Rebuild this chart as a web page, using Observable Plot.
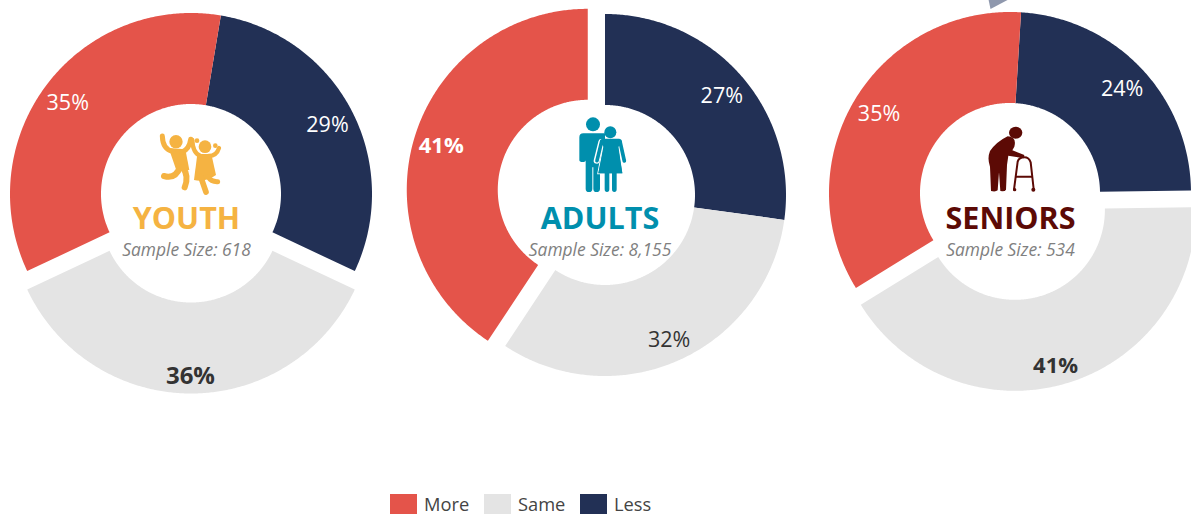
<!DOCTYPE html>
<html>
<head>
<meta charset="utf-8">
<script src="https://cdn.jsdelivr.net/npm/d3@7"></script>
<script src="https://cdn.jsdelivr.net/npm/@observablehq/plot@0.6"></script>
<style>
  html, body { margin: 0; padding: 0; background: #fff; overflow: hidden; }
  svg { display: block; }
  #legend { display: flex; align-items: center; margin: 4px 0 0 390px; height: 20px;
            font: 18.3px "Open Sans", sans-serif; color: #444; }
  #legend .sw { width: 27px; height: 20px; margin-right: 7px; flex: none; }
  #legend .it { display: flex; align-items: center; }
  #legend span { position: relative; top: -1px; }
</style>
</head>
<body>
<div id="chart"></div>
<div id="legend"></div>
<script>
// ---- values (printed rounded)
const groups = ["YOUTH", "ADULTS", "SENIORS"];
const sampleSizes = ["618", "8,155", "534"];
const answers = ["Less", "Same", "More"];          // clockwise order in each ring
const less = [29.36, 27.2, 23.8];
const same = [36, 32.1, 41.44];
const more = [34.64, 40.7, 34.76];
const legendOrder = ["More", "Same", "Less"];
const legendWidths = [94, 96, 90];

// ---- layout and styles
const W = 1191, H = 490;
const colors = { More: "#E4544A", Same: "#E4E4E4", Less: "#223055" };
const centers = [[190.5, 193.5], [604.5, 194.5], [1009.5, 192.5]];
const rotation = [9.5, 0, 3.5];
const explodedAnswer = ["Same", "More", "Same"];
const explodeBy = [18.5, 18, 17.5];
const R = 181, r = 90;
const nameColor = ["#F5B342", "#008FAD", "#5C0A05"];
const nameX = [186, 599.5, 1010];
const sampleX = [186, 599.5, 1010];
const boldLabel = { YOUTH: "Same", ADULTS: "More", SENIORS: "Same" };
const nameY = 218.5, sampleY = 250;
const pointerColor = "#8F98AD";
const labelRadius = { Less: [153, 153, 153], Same: [164, 159, 161], More: [153, 153, 153] };
const labelTurn = { Less: [0.8, 0.8, 0.8], Same: [0.2, 0.5, 1.6], More: [-0.8, 0, 0.2] };

const rows = [];
groups.forEach((group, g) => {
  const vals = { Less: less[g], Same: same[g], More: more[g] };
  let a = rotation[g];
  for (const answer of answers) {
    const a0 = a, a1 = a + vals[answer] * 3.6;
    a = a1;
    const mid = (a0 + a1) / 2 * Math.PI / 180;
    const off = answer === explodedAnswer[g] ? explodeBy[g] : 0;
    rows.push({
      group, g, answer, value: vals[answer], a0, a1, mid,
      cx: centers[g][0] + off * Math.sin(mid),
      cy: centers[g][1] - off * Math.cos(mid),
      labelR: labelRadius[answer][g],
      labelTurn: labelTurn[answer][g] * Math.PI / 180,
      bold: boldLabel[group] === answer
    });
  }
});

// polygon outline of each ring slice
const outline = rows.flatMap((s) => {
  const pts = [];
  const n = Math.ceil((s.a1 - s.a0) * 2);
  for (let i = 0; i <= n; i++) {
    const t = (s.a0 + (s.a1 - s.a0) * i / n) * Math.PI / 180;
    pts.push({ key: s.group + s.answer, answer: s.answer, x: s.cx + R * Math.sin(t), y: s.cy - R * Math.cos(t) });
  }
  for (let i = n; i >= 0; i--) {
    const t = (s.a0 + (s.a1 - s.a0) * i / n) * Math.PI / 180;
    pts.push({ key: s.group + s.answer, answer: s.answer, x: s.cx + r * Math.sin(t), y: s.cy - r * Math.cos(t) });
  }
  return pts;
});

const labels = rows.map((s) => ({
  text: Math.round(s.value) + "%",
  x: s.cx + s.labelR * Math.sin(s.mid + s.labelTurn),
  y: s.cy - s.labelR * Math.cos(s.mid + s.labelTurn),
  bold: s.bold,
  size: s.bold ? (s.group === "YOUTH" ? 24 : 22) : 21.5,
  color: s.answer === "Same" ? "#333333" : "#ffffff"
}));

const titles = groups.map((name, g) => ({ name, x: nameX[g], y: nameY, color: nameColor[g] }));
const samples = groups.map((name, g) => ({ text: "Sample Size: " + sampleSizes[g], x: sampleX[g], y: sampleY }));

const pointer = [{ x: 988, y: -1 }, { x: 1008, y: -1 }, { x: 990, y: 8.5 }];

// pictographs: drawn in a local 3x grid, placed through the scales
const icons = [
  { origin: [100, 120], fill: nameColor[0], markup: `
    <circle cx="228" cy="65" r="20"/><circle cx="315" cy="80" r="19"/>
    <circle cx="291" cy="62" r="7"/><circle cx="346" cy="77" r="7"/>
    <path d="M206,84 L256,88 L268,150 L230,154 Z"/>
    <path d="M292,102 L334,102 L348,165 Q316,188 282,180 Z"/>
    <g fill="none" stroke="${nameColor[0]}" stroke-linecap="round" stroke-linejoin="round">
      <path stroke-width="15" d="M187,48 Q188,88 218,94"/>
      <path stroke-width="15" d="M272,58 Q268,88 245,97"/>
      <path stroke-width="18" d="M240,142 Q226,178 192,168"/>
      <path stroke-width="18" d="M248,142 Q268,168 254,202"/>
      <path stroke-width="13" d="M277,60 Q278,100 302,108"/>
      <path stroke-width="13" d="M357,84 Q350,108 326,108"/>
      <path stroke-width="17" d="M302,170 L318,216"/>
      <path stroke-width="15" d="M324,170 Q334,186 353,185"/>
    </g>` },
  { origin: [510, 110], fill: nameColor[1], markup: `
    <circle cx="249" cy="43" r="21"/>
    <path d="M220,70 H285 V160 H270 V236 Q270,246 259,246 Q250,246 250,236 V172 H247 V236 Q247,246 237,246 Q227,246 227,236 V118 L227,150 Q227,156 218,156 Q208,156 208,150 V82 Q208,70 220,70 Z"/>
    <g fill="none" stroke="#fff" stroke-width="18" stroke-linecap="round"><path d="M274,96 L260,152"/></g>
    <path d="M283,95 H323 L337,190 H265 Z" stroke="#fff" stroke-width="6" paint-order="stroke"/>
    <circle cx="301" cy="67" r="18"/>
    <path d="M284,188 H298 V238 Q298,246 291,246 Q284,246 284,238 Z M306,188 H320 V238 Q320,246 313,246 Q306,246 306,238 Z"/>
    <path d="M276,86 H328 Q334,87 336,95 L322,115 H284 L270,95 Q272,87 276,86 Z"/>
    <g fill="none" stroke="${nameColor[1]}" stroke-width="11" stroke-linecap="round"><path d="M275,94 L261,152"/><path d="M330,94 L343,153"/></g>
    <path d="M283,105 H323 L337,190 H265 Z"/>` },
  { origin: [925, 115], fill: nameColor[2], markup: `
    <ellipse cx="272" cy="53" rx="20" ry="18"/>
    <path d="M248,64 Q276,66 268,95 L262,106 L298,120 L296,130 L250,122 L246,150 L243,224 Q240,230 226,228 L222,172 L218,226 Q212,231 198,228 L195,155 Q186,130 195,108 Q215,80 248,64 Z"/>
    <g fill="none" stroke="${nameColor[2]}" stroke-width="6" stroke-linecap="round">
      <path d="M267,224 L278,140 Q282,127 298,127 Q312,127 317,142 L326,222"/>
      <path d="M273,185 H321"/>
    </g>
    <circle cx="325" cy="224" r="6"/><circle cx="269" cy="224" r="5"/>` }
];

const iconMark = (index, { x, y }) => {
  const g = d3.create("svg:g");
  for (const icon of icons) {
    g.append("g")
      .attr("transform", `translate(${x(icon.origin[0])},${y(icon.origin[1])}) scale(${1 / 3})`)
      .attr("fill", icon.fill)
      .html(icon.markup);
  }
  return g.node();
};

const font = '"Open Sans", sans-serif';
const chart = Plot.plot({
  width: W, height: H,
  margin: 0,
  style: { fontFamily: font, background: "transparent" },
  x: { domain: [0, W], range: [0, W], axis: null },
  y: { domain: [0, H], range: [0, H], axis: null },
  color: { domain: Object.keys(colors), range: Object.values(colors) },
  marks: [
    Plot.line(pointer, { x: "x", y: "y", fill: pointerColor, stroke: "none", curve: "linear-closed" }),
    Plot.line(outline, { x: "x", y: "y", z: "key", fill: "answer", stroke: "none", curve: "linear-closed" }),
    Plot.text(labels.filter((d) => !d.bold), { x: "x", y: "y", text: "text", fontSize: "size", fontWeight: 400, fill: { value: (d) => d.color, scale: null } }),
    Plot.text(labels.filter((d) => d.bold), { x: "x", y: "y", text: "text", fontSize: "size", fontWeight: 700, fill: { value: (d) => d.color, scale: null } }),
    Plot.text(titles, { x: "x", y: "y", text: "name", fontSize: 30.5, fontWeight: 700, fill: { value: (d) => d.color, scale: null } }),
    Plot.text(samples, { x: "x", y: "y", text: "text", fontSize: 17.4, fontStyle: "italic", fill: "#808080" }),
    iconMark
  ]
});
document.getElementById("chart").append(chart);

const lg = d3.select("#legend");
legendOrder.forEach((name, i) => {
  const it = lg.append("div").attr("class", "it").style("width", legendWidths[i] + "px");
  it.append("div").attr("class", "sw").style("background", colors[name]);
  it.append("span").text(name);
});
</script>
</body>
</html>
